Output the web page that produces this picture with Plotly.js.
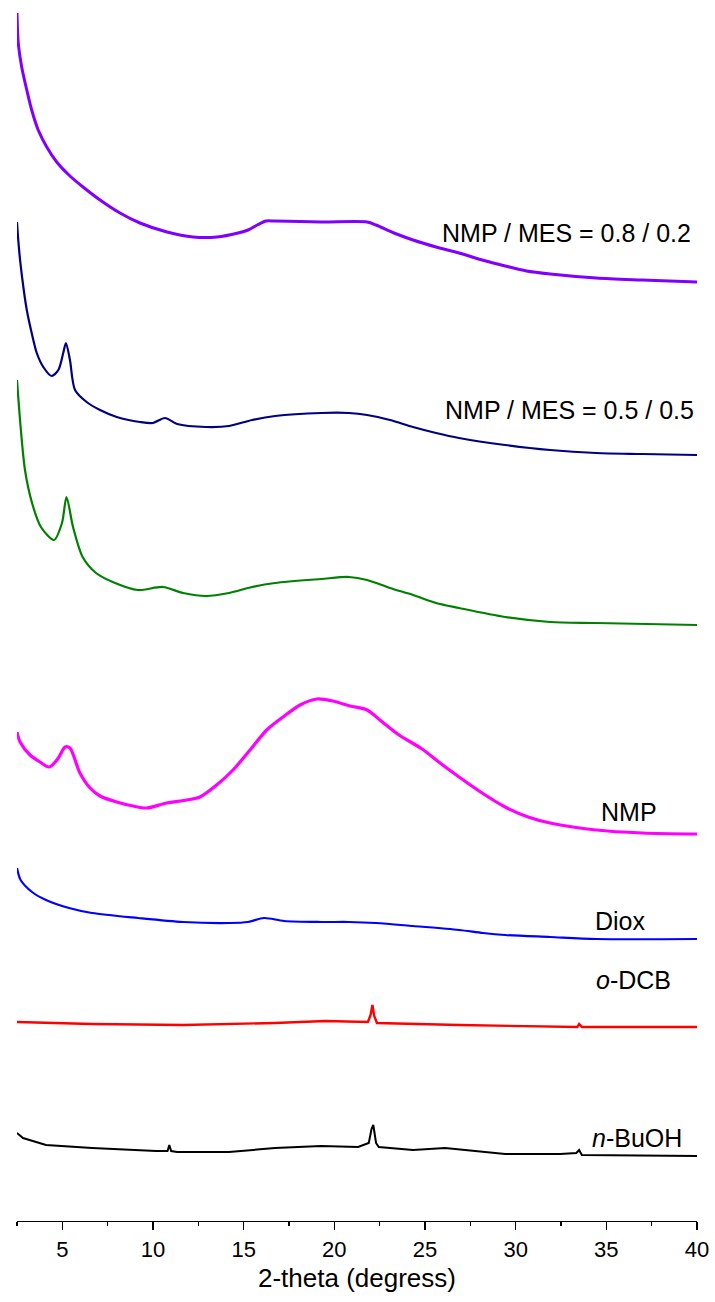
<!DOCTYPE html>
<html>
<head>
<meta charset="utf-8">
<script src="https://cdn.plot.ly/plotly-3.0.1.min.js"></script>
<style>html,body{margin:0;padding:0;background:#fff;}#chart{width:715px;height:1302px;}</style>
</head>
<body>
<div id="chart"></div>
<script>
// 2-theta values (degrees) and stacked intensities (a.u., offset for display)
const mes82_x = [2.50,2.57,2.76,3.04,3.31,3.67,4.14,4.69,5.42,6.14,7.08,8.18,9.28,10.77,12.21,13.53,14.69,15.24,15.75,16.23,16.73,19.27,21.81,22.30,23.29,24.34,25.61,26.88,28.15,29.42,30.60,31.90,34.44,36.97,40.00];
const mes82_y = [1208,1178,1154,1131,1111,1091,1074,1059,1045,1034,1021,1008,998,989,984,984,988,991,996,1000,1000,999,999,996,988,981,974,968,961,955,950,947,943,941,939];

const mes55_x = [2.50,2.57,2.67,2.85,3.04,3.31,3.59,3.95,4.41,4.78,5.05,5.20,5.42,5.70,6.34,7.08,8.00,9.28,10.00,10.66,11.33,12.92,14.19,15.46,16.73,19.27,20.81,21.81,23.07,24.34,25.61,26.88,29.42,31.90,34.44,36.97,40.00];
const mes55_y = [999,981,961,934,911,888,868,854,845,851,868,878,861,831,819,811,804,799,798,803,797,794,795,801,805,808,808,806,801,794,788,783,776,771,768,767,766];

const mes73_x = [2.50,2.70,2.94,3.33,3.82,4.54,4.98,5.23,5.59,6.12,6.86,7.91,9.17,10.55,11.66,12.92,14.19,15.46,16.73,19.27,20.81,21.81,23.07,24.34,25.61,26.88,29.42,31.90,34.44,40.00];
const mes73_y = [841,794,751,718,694,681,698,724,694,664,648,638,631,634,628,625,628,634,638,642,644,641,633,626,618,613,604,599,598,596];

const nmp_x = [2.50,2.67,3.22,3.77,4.28,4.78,5.15,5.42,5.97,6.53,7.08,8.00,8.90,9.65,10.76,11.86,12.59,13.51,14.41,15.35,16.27,17.17,18.11,19.03,19.93,20.87,21.81,22.58,23.57,24.84,25.83,26.88,28.15,29.42,30.69,31.90,34.44,36.97,40.00];
const nmp_y = [489,479,466,459,454,463,474,473,448,433,425,419,415,413,418,421,424,436,451,471,491,504,516,522,520,515,511,500,486,472,458,444,428,414,404,398,391,388,387];

const diox_x = [2.50,2.70,3.33,4.10,5.37,6.64,9.17,11.66,14.19,15.24,16.12,17.23,19.27,20.81,22.30,24.34,26.88,28.20,29.42,31.90,34.44,40.00];
const diox_y = [353,341,329,321,313,308,303,299,298,299,303,300,299,299,298,295,291,288,286,284,282,282];

const dcb_x = [2.50,6.64,11.66,16.73,19.50,21.31,21.85,22.00,22.10,22.20,22.35,26.88,31.90,33.40,33.50,33.65,40.00];
const dcb_y = [199,197,196,198,200,199,199,206,216,205,198,196,194,194,197,194,194];

const buoh_x = [2.50,2.83,4.10,6.64,10.17,10.80,10.90,11.00,11.33,14.19,16.73,19.27,21.31,21.90,22.05,22.15,22.30,22.45,24.34,26.11,29.42,32.45,33.35,33.50,33.65,40.00];
const buoh_y = [88,83,76,73,70,70,76,70,69,69,73,75,74,78,92,96,78,74,71,73,67,67,68,71,66,65];

const xTickVals = [5,10,15,20,25,30,35,40];
const xTitle = '2-theta (degress)';
const labels = ['NMP / MES = 0.8 / 0.2','NMP / MES = 0.5 / 0.5','NMP / MES = 0.7 / 0.3','NMP','Diox','<i>o</i>-DCB','<i>n</i>-BuOH'];

const F = 'Arial, "Liberation Sans", sans-serif';
function tr(x, y, color, w, smooth) {
  return {x: x, y: y, type: 'scatter', mode: 'lines',
    line: smooth ? {color: color, width: w, shape: 'spline', smoothing: 0.8} : {color: color, width: w},
    hoverinfo: 'skip', showlegend: false};
}
const data = [
  tr(mes82_x, mes82_y, '#8000FF', 3, true),
  tr(mes55_x, mes55_y, '#000080', 2.2, true),
  tr(mes73_x, mes73_y, '#008000', 2.2, true),
  tr(nmp_x, nmp_y, '#FF00FF', 3.2, true),
  tr(diox_x, diox_y, '#0000FF', 2.2, true),
  tr(dcb_x, dcb_y, '#FF0000', 2.4, false),
  tr(buoh_x, buoh_y, '#000000', 2, false)
];

function ann(text, x, y, xanchor) {
  return {text: text, x: x, y: y, xref: 'x', yref: 'y', xanchor: xanchor, yanchor: 'middle', showarrow: false, font: {family: F, size: 25, color: '#000'}};
}
const layout = {
  width: 715, height: 1302,
  margin: {l: 17, r: 18, t: 0, b: 81},
  paper_bgcolor: '#fff', plot_bgcolor: '#fff',
  xaxis: {
    range: [2.5, 40], tickvals: xTickVals, ticktext: xTickVals.map(String),
    showline: true, linecolor: '#000', linewidth: 1.2, mirror: false,
    ticks: 'outside', ticklen: 8, tickwidth: 1.2, tickcolor: '#000',
    minor: {dtick: 2.5, tick0: 2.5, ticks: 'outside', ticklen: 4, tickwidth: 1.2, tickcolor: '#000', showgrid: false},
    showgrid: false, zeroline: false,
    tickfont: {family: F, size: 22, color: '#000'},
    title: {text: xTitle, font: {family: F, size: 26, color: '#000'}, standoff: 8}
  },
  yaxis: {range: [0, 1221], visible: false, showgrid: false, zeroline: false},
  annotations: [
    ann(labels[0], 39.79, 988, 'right'),
    ann(labels[1], 39.95, 811, 'right'),
    ann(labels[2], 40.72, 628, 'right'),
    ann(labels[3], 36.26, 409, 'center'),
    ann(labels[4], 35.76, 300, 'center'),
    ann(labels[5], 36.48, 241, 'center'),
    ann(labels[6], 36.70, 83, 'center')
  ]
};
Plotly.newPlot('chart', data, layout, {staticPlot: true, displayModeBar: false});
</script>
</body>
</html>
